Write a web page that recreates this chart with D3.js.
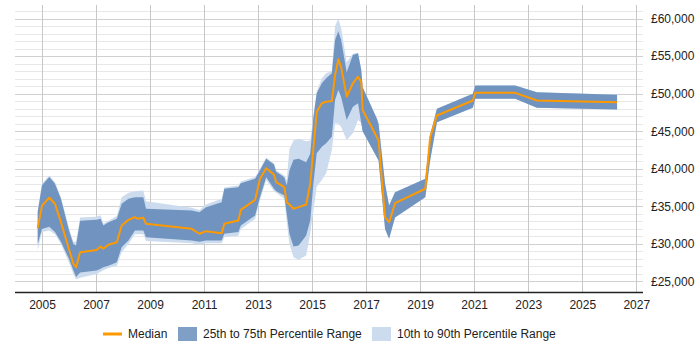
<!DOCTYPE html>
<html>
<head>
<meta charset="utf-8">
<script src="https://cdn.jsdelivr.net/npm/d3@7"></script>
<style>
html,body{margin:0;padding:0;background:#fff;}
svg{display:block;font-family:"Liberation Sans",Arial,sans-serif;}
</style>
</head>
<body>
<svg id="chart" width="700" height="350"></svg>
<script>
const years = [2004.84,2005.00,2005.27,2005.48,2005.70,2006.00,2006.16,2006.26,2006.41,2007.02,2007.17,2007.27,2007.46,2007.77,2007.95,2008.20,2008.44,2008.53,2008.75,2008.85,2010.54,2010.83,2011.07,2011.65,2011.75,2012.27,2012.36,2012.89,2013.07,2013.30,2013.59,2013.67,2013.97,2014.06,2014.16,2014.31,2014.50,2014.78,2014.93,2015.05,2015.17,2015.36,2015.52,2015.73,2015.85,2015.97,2016.07,2016.28,2016.51,2016.70,2016.82,2016.87,2017.40,2017.46,2017.70,2017.85,2018.07,2019.19,2019.37,2019.62,2020.95,2021.04,2022.52,2023.32,2026.29];

const p10 = [29200,31600,31800,31300,30000,27500,26000,25300,25500,26000,26300,26500,26800,27100,28900,30000,31300,31300,31300,30400,30100,29900,30100,30100,30900,31100,32000,33300,35800,38500,37000,36800,36000,33000,30000,28230,27880,28460,31350,34500,37620,38510,39400,42500,46060,46000,45600,43830,44720,46500,46060,45000,41500,41100,32000,30680,33500,36220,41100,46210,48120,49310,49310,48120,47900];

const p25 = [30000,32000,32300,31600,30300,28000,26500,25600,26200,26460,26700,26900,27100,27570,29570,30460,31790,31790,31790,30900,30460,30300,30460,30460,31350,31570,32450,33780,36220,38880,37340,37000,36450,34010,31350,29660,29790,31120,33120,38070,42060,42940,43390,44270,49160,50490,49600,46500,48270,48720,46060,45000,41500,41100,32000,30680,33500,36220,41100,46210,48120,49310,49310,48120,47900];

const median = [32100,35100,36140,35340,32900,29300,27360,26900,28900,29200,29650,29350,29880,30230,32450,33200,33560,33350,33480,32680,32010,31350,31700,31430,32680,33120,34540,35870,38670,40080,39200,38220,37550,35560,35250,34680,34900,35250,38000,42800,47600,48720,48930,49020,52470,54570,53590,49600,51380,52260,51530,47830,44200,43770,33560,32890,35420,37340,44200,47090,49090,50110,50110,49090,48870];

const p75 = [34200,37800,38900,38000,36000,31800,30000,29800,33100,33200,33350,32450,32890,33350,35340,36000,36220,36220,36220,34680,34450,34200,34890,35560,37340,37550,38080,38670,39800,41330,40570,39600,38880,37780,39770,41200,41330,40880,42000,46900,50050,51380,52050,52710,57140,58310,57200,52860,55150,55370,53150,50860,46650,46000,38000,35120,36890,38670,44500,47980,49980,51090,51090,50200,49850];

const p90 = [34500,38000,39100,38200,36200,32100,30300,30300,33500,33600,33800,32700,33100,33700,36200,36800,37020,37050,37110,35690,34810,34500,35250,36000,37500,37780,38300,38900,40000,41500,40700,39800,39100,38500,42640,43770,43990,43670,43770,47200,50300,52050,52710,53000,59000,59960,58800,54190,55300,55400,53150,50860,46650,46000,38000,35120,36890,38670,44500,47980,49980,51090,51090,50200,49850];

const xTicks = [2005,2007,2009,2011,2013,2015,2017,2019,2021,2023,2025,2027];
const yTicks = [25000,30000,35000,40000,45000,50000,55000,60000];
const legendLabels = ["Median","25th to 75th Percentile Range","10th to 90th Percentile Range"];

const data = years.map((y,i)=>({year:y,p10:p10[i],p25:p25[i],med:median[i],p75:p75[i],p90:p90[i]}));

const L=15, R=643, T=5, B=292;
const svg = d3.select("#chart");
const x = d3.scaleLinear().domain([2004,2027.25]).range([L,R]);
const y = d3.scaleLinear().domain([23600,61800]).range([B,T]);

// minor gridlines
const minor = d3.range(25000,61001,1000).filter(v=>v%5000!==0);
svg.append("g").selectAll("line").data(minor).join("line")
  .attr("x1",L).attr("x2",R).attr("y1",d=>Math.round(y(d))+0.5).attr("y2",d=>Math.round(y(d))+0.5)
  .attr("stroke","#e8e8e8").attr("stroke-width",1);
// major gridlines
svg.append("g").selectAll("line").data(yTicks).join("line")
  .attr("x1",L).attr("x2",R).attr("y1",d=>Math.round(y(d))+0.5).attr("y2",d=>Math.round(y(d))+0.5)
  .attr("stroke","#d0d0d0").attr("stroke-width",1);
// vertical gridlines
svg.append("g").selectAll("line").data(xTicks).join("line")
  .attr("x1",d=>Math.round(x(d))+0.5).attr("x2",d=>Math.round(x(d))+0.5).attr("y1",T).attr("y2",B)
  .attr("stroke","#c8c8c8").attr("stroke-width",1);

const area9010 = d3.area().x(d=>x(d.year)).y0(d=>y(d.p10)).y1(d=>y(d.p90));
const area7525 = d3.area().x(d=>x(d.year)).y0(d=>y(d.p25)).y1(d=>y(d.p75));
const line = d3.line().x(d=>x(d.year)).y(d=>y(d.med));

svg.append("path").datum(data).attr("d",area9010).attr("fill","#ccdcee");
svg.append("path").datum(data).attr("d",area7525).attr("fill","#7094bf");
svg.append("path").datum(data).attr("d",line).attr("fill","none").attr("stroke","#ff9900").attr("stroke-width",2).attr("stroke-linejoin","round");

// x axis
const xAxis = svg.append("g").attr("transform",`translate(0,${B})`)
  .call(d3.axisBottom(x).tickValues(xTicks).tickFormat(d3.format("d")).tickSize(0).tickPadding(8));
xAxis.select(".domain").remove();
xAxis.selectAll("text").attr("font-size",12).attr("fill","#222").attr("font-family","Liberation Sans, Arial, sans-serif");
svg.append("line").attr("x1",L).attr("x2",R).attr("y1",B+0.5).attr("y2",B+0.5).attr("stroke","#222").attr("stroke-width",1.5);

// y axis
const yAxis = svg.append("g").attr("transform",`translate(${R},0)`)
  .call(d3.axisRight(y).tickValues(yTicks).tickFormat(d=>"£"+d3.format(",")(d)).tickSize(0).tickPadding(8));
yAxis.select(".domain").remove();
yAxis.selectAll("text").attr("font-size",12).attr("fill","#222").attr("font-family","Liberation Sans, Arial, sans-serif");

// legend
const lg = svg.append("g").attr("font-size",12).attr("fill","#222");
lg.append("line").attr("x1",103).attr("x2",122).attr("y1",334).attr("y2",334).attr("stroke","#ff9900").attr("stroke-width",3);
lg.append("text").attr("x",128).attr("y",338).text(legendLabels[0]);
lg.append("rect").attr("x",178).attr("y",327).attr("width",19).attr("height",14).attr("fill","#7f9fc6");
lg.append("text").attr("x",203).attr("y",338).text(legendLabels[1]);
lg.append("rect").attr("x",372).attr("y",327).attr("width",19).attr("height",14).attr("fill","#ccdcee");
lg.append("text").attr("x",397).attr("y",338).text(legendLabels[2]);
</script>
</body>
</html>
